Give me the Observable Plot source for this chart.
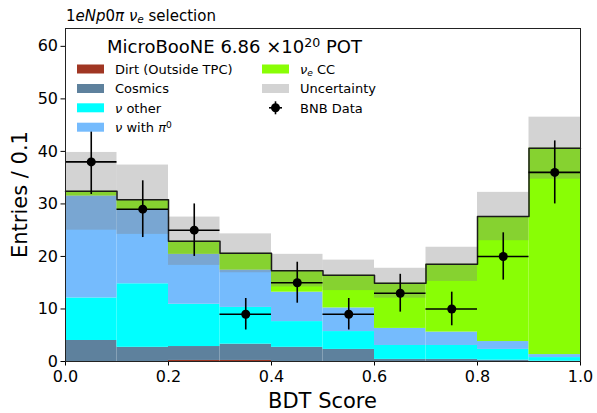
<!DOCTYPE html>
<html>
<head>
<meta charset="utf-8">
<script src="https://cdn.jsdelivr.net/npm/d3@7"></script>
<script src="https://cdn.jsdelivr.net/npm/@observablehq/plot@0.6"></script>
<style>
  html, body { margin: 0; padding: 0; background: white; }
  #chart { position: relative; width: 597px; height: 413px; }
</style>
</head>
<body>
<div id="chart"></div>
<script>
// ---- data ----
const binLo = [0.0, 0.1, 0.2, 0.3, 0.4, 0.5, 0.6, 0.7, 0.8, 0.9];
const binWidth = 0.1;
const compNames = ["Dirt (Outside TPC)", "Cosmics", "ν other", "ν with π0", "νe CC"];
const compColors = ["#a03623", "#5e819d", "#00ffff", "#75bbfd", "#89fe05"];
const dirt    = [0, 0, 0.2, 0.2, 0, 0, 0, 0, 0, 0];
const cosmics = [4.0, 2.7, 2.65, 3.1, 2.7, 2.3, 0.4, 0.4, 0.25, 0.05];
const nuOther = [8.1, 12.1, 8.05, 7.0, 4.9, 3.4, 2.65, 2.65, 2.05, 0.7];
const nuPi0   = [19.4, 14.1, 9.5, 7.1, 5.6, 4.5, 3.25, 2.55, 1.5, 0.57];
const nueCC   = [0.9, 1.9, 2.5, 3.2, 4.1, 6.2, 8.6, 12.9, 23.8, 39.3];
const uncertainty = [7.4, 6.6, 4.6, 3.7, 3.1, 2.9, 2.85, 3.25, 4.6, 5.9];
const bnbData = [38, 29, 25, 9, 15, 9, 13, 10, 20, 36];
const bnbErr  = [6.2, 5.4, 5.0, 3.0, 3.9, 3.0, 3.6, 3.2, 4.5, 6.0];
const xTicks = [0.0, 0.2, 0.4, 0.6, 0.8, 1.0];
const yTicks = [0, 10, 20, 30, 40, 50, 60];
const yMax = 63.4;

// ---- tables built from the arrays ----
const compSeries = [dirt, cosmics, nuOther, nuPi0, nueCC];
const stackRows = [];
compNames.forEach((name, c) => {
  binLo.forEach((lo, i) => stackRows.push({comp: name, lo, hi: lo + binWidth, value: compSeries[c][i]}));
});
const bins = binLo.map((lo, i) => {
  const total = compSeries.reduce((s, arr) => s + arr[i], 0);
  return {lo, hi: lo + binWidth, mid: lo + binWidth / 2, total,
          uLo: total - uncertainty[i], uHi: total + uncertainty[i],
          data: bnbData[i], dLo: bnbData[i] - bnbErr[i], dHi: bnbData[i] + bnbErr[i]};
});
const stepPts = bins.flatMap(b => [{x: b.lo, y: b.total}, {x: b.hi, y: b.total}]);

const W = 597, H = 413, mL = 65, mR = 17, mT = 28, mB = 52;

const svg = Plot.plot({
  width: W, height: H,
  marginLeft: mL, marginRight: mR, marginTop: mT, marginBottom: mB,
  style: {fontFamily: "DejaVu Sans", color: "black", background: "white", overflow: "visible"},
  x: {domain: [0, 1]},
  y: {domain: [0, yMax]},
  color: {domain: compNames, range: compColors},
  marks: [
    Plot.rectY(stackRows, {x1: "lo", x2: "hi", y: "value", fill: "comp", z: "comp", order: compNames}),
    Plot.rect(bins, {x1: "lo", x2: "hi", y1: "uLo", y2: "uHi", fill: "#808080", fillOpacity: 0.35}),
    Plot.line(stepPts, {x: "x", y: "y", stroke: "#1a1a1a", strokeWidth: 1.5}),
    Plot.ruleX(bins, {x: "mid", y1: "dLo", y2: "dHi", stroke: "black", strokeWidth: 1.6}),
    Plot.ruleY(bins, {y: "data", x1: "lo", x2: "hi", stroke: "black", strokeWidth: 1.6}),
    Plot.dot(bins, {x: "mid", y: "data", r: 4.5, fill: "black", stroke: "none"}),
    Plot.axisX({ticks: xTicks, tickFormat: d3.format(".1f"), tickSize: 4.5, tickPadding: 4.5, fontSize: 16, label: null}),
    Plot.axisY({ticks: yTicks, tickSize: 4.5, tickPadding: 3, fontSize: 16, label: null}),
    Plot.frame({stroke: "#222", strokeWidth: 1})
  ]
});
document.getElementById("chart").appendChild(svg);

// ---- texts: title, axis labels, legend ----
const g = d3.select(svg).append("g").attr("font-family", "DejaVu Sans").attr("fill", "black");

function richText(parent, x, y, size, parts, anchor) {
  const t = parent.append("text").attr("x", x).attr("y", y).attr("font-size", size)
    .attr("text-anchor", anchor || "start");
  parts.forEach(p => {
    const s = t.append("tspan").text(p.t);
    if (p.i) s.attr("font-style", "italic");
    if (p.sub) s.attr("font-size", size * 0.7).attr("baseline-shift", "-22%");
    if (p.sup) s.attr("font-size", size * 0.7).attr("baseline-shift", "45%");
  });
  return t;
}

// title
richText(g, 66, 21, 15, [
  {t: "1"}, {t: "eNp", i: true}, {t: "0"}, {t: "π", i: true}, {t: " "},
  {t: "ν", i: true}, {t: "e", i: true, sub: true}, {t: " selection"}
]);

// axis labels
g.append("text").attr("x", mL + (W - mL - mR) / 2).attr("y", 408).attr("text-anchor", "middle")
  .attr("font-size", 21).text("BDT Score");
g.append("text").attr("transform", `translate(27,${mT + (H - mT - mB) / 2}) rotate(-90)`)
  .attr("text-anchor", "middle").attr("font-size", 21).text("Entries / 0.1");

// legend
const lg = g.append("g");
richText(lg, 107, 53, 18, [{t: "MicroBooNE 6.86 ×10"}, {t: "20", sup: true}, {t: " POT"}]);
const rowY = [69, 88.5, 107.8, 127.2];
const col1 = 77, col2 = 262, patchW = 27, patchH = 9, txtOff = 38;
const legendItems = [
  {col: col1, row: 0, color: compColors[0], parts: [{t: "Dirt (Outside TPC)"}]},
  {col: col1, row: 1, color: compColors[1], parts: [{t: "Cosmics"}]},
  {col: col1, row: 2, color: compColors[2], parts: [{t: "ν", i: true}, {t: " other"}]},
  {col: col1, row: 3, color: compColors[3], parts: [{t: "ν", i: true}, {t: " with "}, {t: "π", i: true}, {t: "0", sup: true}]},
  {col: col2, row: 0, color: compColors[4], parts: [{t: "ν", i: true}, {t: "e", i: true, sub: true}, {t: " CC"}]},
  {col: col2, row: 1, color: "#d3d3d3", parts: [{t: "Uncertainty"}]},
  {col: col2, row: 2, color: null, parts: [{t: "BNB Data"}]}
];
legendItems.forEach(it => {
  const cy = rowY[it.row];
  if (it.color) {
    lg.append("rect").attr("x", it.col).attr("y", cy - patchH / 2).attr("width", patchW).attr("height", patchH)
      .attr("fill", it.color);
  } else {
    const cx = it.col + patchW / 2;
    lg.append("line").attr("x1", cx - 6.5).attr("x2", cx + 6.5).attr("y1", cy).attr("y2", cy).attr("stroke", "black").attr("stroke-width", 1.6);
    lg.append("line").attr("x1", cx).attr("x2", cx).attr("y1", cy - 6.5).attr("y2", cy + 6.5).attr("stroke", "black").attr("stroke-width", 1.6);
    lg.append("circle").attr("cx", cx).attr("cy", cy).attr("r", 4.5).attr("fill", "black");
  }
  richText(lg, it.col + txtOff, cy + 4.8, 13, it.parts);
});
</script>
</body>
</html>
